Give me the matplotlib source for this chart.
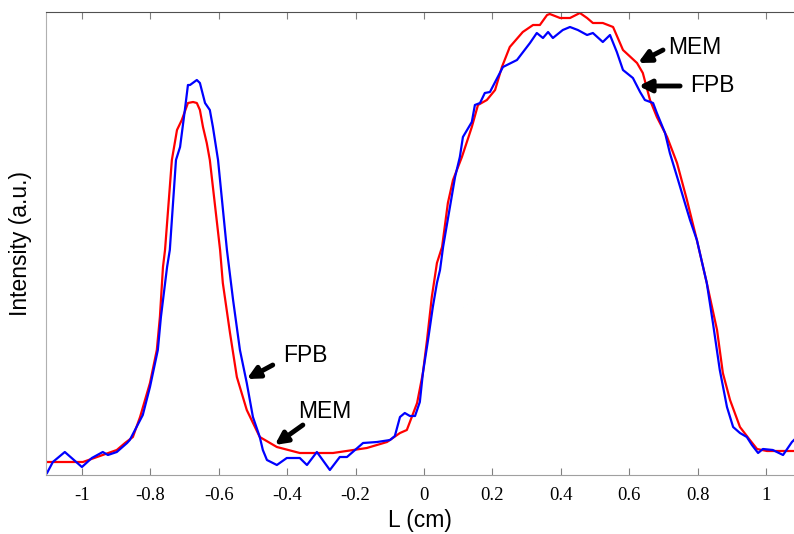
import matplotlib
matplotlib.use("Agg")
import matplotlib.pyplot as plt

# MEM reconstruction (red)
mem_x = [-1.102, -0.997, -0.898, -0.874, -0.851, -0.830, -0.801, -0.781, -0.772, -0.763,
         -0.757, -0.737, -0.722, -0.708, -0.690, -0.675, -0.664, -0.655, -0.646, -0.635,
         -0.626, -0.596, -0.588, -0.567, -0.547, -0.518, -0.480, -0.450, -0.430, -0.363,
         -0.266, -0.167, -0.108, -0.070, -0.050, -0.020, -0.003, 0.009, 0.023, 0.038,
         0.053, 0.070, 0.085, 0.111, 0.140, 0.158, 0.184, 0.208, 0.228, 0.251,
         0.289, 0.319, 0.339, 0.360, 0.368, 0.398, 0.427, 0.456, 0.477, 0.494,
         0.523, 0.553, 0.582, 0.623, 0.640, 0.661, 0.681, 0.711, 0.740, 0.769,
         0.798, 0.827, 0.857, 0.874, 0.895, 0.924, 0.953, 0.974, 1.003, 1.082]
mem_y = [13, 13, 25, 32, 38, 58, 92, 125, 158, 208,
         225, 315, 345, 355, 372, 373, 372, 365, 348, 332,
         315, 225, 192, 142, 98, 65, 38, 32, 28, 22,
         22, 27, 33, 42, 45, 72, 102, 135, 178, 212,
         228, 272, 295, 318, 348, 370, 375, 385, 408, 428,
         443, 450, 450, 460, 461, 457, 457, 462, 457, 452,
         452, 448, 425, 412, 402, 375, 358, 338, 312, 275,
         235, 192, 145, 102, 75, 48, 35, 26, 24, 24]

# FPB measurement (blue)
fpb_x = [-1.102, -1.085, -1.050, -1.000, -0.971, -0.939, -0.924, -0.898, -0.868, -0.860,
         -0.822, -0.801, -0.778, -0.769, -0.751, -0.743, -0.725, -0.713, -0.699, -0.690,
         -0.684, -0.664, -0.655, -0.640, -0.626, -0.617, -0.602, -0.576, -0.558, -0.538,
         -0.518, -0.500, -0.480, -0.471, -0.459, -0.430, -0.401, -0.363, -0.342, -0.313,
         -0.275, -0.246, -0.225, -0.178, -0.137, -0.099, -0.085, -0.070, -0.056, -0.041,
         -0.026, -0.012, -0.003, 0.012, 0.026, 0.038, 0.047, 0.056, 0.076, 0.091,
         0.105, 0.114, 0.140, 0.149, 0.164, 0.178, 0.193, 0.231, 0.272, 0.310,
         0.330, 0.348, 0.363, 0.377, 0.406, 0.427, 0.450, 0.477, 0.494, 0.523,
         0.544, 0.564, 0.582, 0.611, 0.632, 0.646, 0.670, 0.681, 0.705, 0.719,
         0.743, 0.763, 0.778, 0.798, 0.827, 0.845, 0.865, 0.886, 0.904, 0.924,
         0.944, 0.959, 0.977, 0.991, 1.020, 1.050, 1.076, 1.082]
fpb_y = [2, 13, 23, 8, 17, 23, 20, 23, 32, 35,
         60, 88, 125, 158, 208, 225, 315, 328, 365, 390,
         390, 395, 392, 372, 365, 348, 315, 225, 175, 125,
         92, 58, 38, 25, 15, 10, 17, 17, 10, 23,
         5, 18, 18, 32, 33, 35, 39, 58, 62, 59,
         59, 73, 102, 135, 168, 192, 205, 228, 268, 298,
         318, 338, 353, 370, 372, 382, 383, 408, 415, 432,
         442, 437, 443, 437, 445, 448, 445, 440, 442, 433,
         440, 423, 405, 397, 383, 375, 372, 362, 342, 322,
         295, 272, 255, 235, 192, 152, 105, 68, 48, 42,
         38, 30, 22, 26, 25, 20, 33, 35]

xticks = [-1, -0.8, -0.6, -0.4, -0.2, 0, 0.2, 0.4, 0.6, 0.8, 1]
xticklabels = ["-1", "-0.8", "-0.6", "-0.4", "-0.2", "0", "0.2", "0.4", "0.6", "0.8", "1"]

# (label, text xy, arrow tail, arrow tip)
notes = [
    ("MEM", (0.713, 428), (0.699, 425), (0.626, 412)),
    ("FPB", (0.778, 390), (0.749, 389), (0.628, 389)),
    ("FPB", (-0.412, 120), (-0.442, 110), (-0.518, 96)),
    ("MEM", (-0.368, 63), (-0.354, 50), (-0.436, 30)),
]

fig = plt.figure(figsize=(7.94, 5.34), dpi=100)
ax = fig.add_axes([46 / 794, 59 / 534, 1 - 46 / 794, 463 / 534])

ax.plot(mem_x, mem_y, color="red", lw=1.6)
ax.plot(fpb_x, fpb_y, color="blue", lw=1.6)

for label, txy, tail, tip in notes:
    ax.annotate("", xy=tip, xytext=tail,
                arrowprops=dict(arrowstyle="-|>", color="black", lw=3.5,
                                mutation_scale=18, shrinkA=0, shrinkB=0))
    ax.text(txy[0], txy[1], label, fontsize=16.5, family="Liberation Sans",
            va="center", ha="left")

ax.set_xlim(-1.105, 1.082)
ax.set_ylim(0, 463)
ax.set_xticks(xticks)
ax.set_xticklabels(xticklabels, family="Liberation Serif", fontsize=13.5)
ax.set_yticks([])
ax.tick_params(axis="x", direction="in", length=5, width=0.8, color="#808080",
               top=True, pad=9)
ax.set_xlabel("L (cm)", family="Liberation Sans", fontsize=16.5, labelpad=3)
ax.set_ylabel("Intensity (a.u.)", family="Liberation Sans", fontsize=16.5, labelpad=10)

ax.spines["right"].set_visible(False)
ax.spines["left"].set_color("#b0b0b0")
ax.spines["bottom"].set_color("#a0a0a0")
ax.spines["top"].set_color("#505050")

fig.savefig("out.png", dpi=100)
